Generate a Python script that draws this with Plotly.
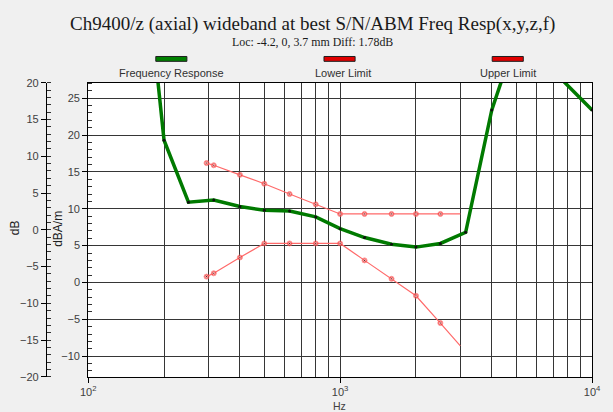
import plotly.graph_objects as go

# ---------------- data ----------------
resp_hz = [160, 200, 250, 315, 400, 500, 630, 800, 1000, 1250, 1600, 2000, 2500, 3150, 4000, 5000, 6300, 10000]
resp_db = [51, 19.3, 10.9, 11.2, 10.3, 9.8, 9.7, 8.9, 7.3, 6.1, 5.2, 4.8, 5.3, 6.8, 23.4, 33.3, 30.3, 23.4]

limit_hz = [295, 315, 400, 500, 630, 800, 1000, 1250, 1600, 2000, 2500, 3000]
upper_db = [16.2, 15.9, 14.6, 13.4, 12.0, 10.6, 9.3, 9.3, 9.3, 9.3, 9.3, 9.3]
lower_db = [0.8, 1.25, 3.4, 5.3, 5.3, 5.3, 5.3, 3.0, 0.5, -1.8, -5.5, -8.6]

x_major = [100, 1000, 10000]
x_major_text = ["10<sup>2</sup>", "10<sup>3</sup>", "10<sup>4</sup>"]
x_minor = [200, 300, 400, 500, 600, 700, 800, 900, 2000, 3000, 4000, 5000, 6000, 7000, 8000, 9000]
inner_ticks = [-10, -5, 0, 5, 10, 15, 20, 25]
outer_ticks = [-20, -15, -10, -5, 0, 5, 10, 15, 20]

title = "Ch9400/z (axial) wideband at best S/N/ABM Freq Resp(x,y,z,f)"
subtitle = "Loc: -4.2, 0, 3.7 mm Diff: 1.78dB"
legend_names = ["Frequency Response", "Lower Limit", "Upper Limit"]
legend_colors = ["#008000", "#e00000", "#e00000"]

W, H = 613, 412
GREEN = "#007a00"
RED_LINE = "#ff6a6a"
GRID = "#363636"
BG = "#f0f0f0"
TICKFONT = dict(family="Liberation Sans, Arial", size=11, color="#404040")

def px(x):
    return x / W

def py(y):
    return 1 - y / H

fig = go.Figure()

end_sizes = [5] * (len(limit_hz) - 1) + [0]
end_dots = [2] * (len(limit_hz) - 1) + [0]
for vals in (lower_db, upper_db):
    fig.add_trace(go.Scatter(
        x=limit_hz, y=vals, mode="lines+markers",
        line=dict(color=RED_LINE, width=1.2),
        marker=dict(color="#ee1010", size=end_sizes),
        showlegend=False, hoverinfo="skip"))
    fig.add_trace(go.Scatter(
        x=limit_hz, y=vals, mode="markers",
        marker=dict(color="#200000", size=end_dots),
        showlegend=False, hoverinfo="skip"))

fig.add_trace(go.Scatter(
    x=resp_hz, y=resp_db, mode="lines+markers",
    line=dict(color=GREEN, width=3.5),
    marker=dict(color="#101010", size=3),
    showlegend=False, hoverinfo="skip"))

fig.add_trace(go.Scatter(x=[100], y=[0], yaxis="y2", mode="markers",
                         marker=dict(opacity=0), showlegend=False, hoverinfo="skip"))

fig.update_layout(
    width=W, height=H, autosize=False,
    margin=dict(l=0, r=0, t=0, b=0),
    paper_bgcolor=BG, plot_bgcolor="white",
    xaxis=dict(
        type="log", range=[2, 4], domain=[px(82.5), px(600.7)],
        tickmode="array", tickvals=x_major, ticktext=x_major_text,
        ticks="outside", ticklen=5, tickcolor="black",
        showgrid=True, gridcolor=GRID, gridwidth=1.2,
        showline=True, linecolor="black", linewidth=1, mirror=True,
        tickfont=dict(family="Liberation Sans, Arial", size=11, color="#404040"),
        minor=dict(tickmode="array", tickvals=x_minor, showgrid=True,
                   gridcolor=GRID, gridwidth=1.2, ticks=""),
        zeroline=False,
    ),
    yaxis=dict(
        range=[-12.8, 27.1], domain=[py(382), py(79)],
        tickmode="array", tickvals=inner_ticks,
        ticks="outside", ticklen=5, tickcolor="black",
        showgrid=True, gridcolor=GRID, gridwidth=1.2,
        showline=True, linecolor="black", linewidth=1, mirror=True,
        tickfont=TICKFONT, zeroline=False,
        minor=dict(dtick=1, tick0=0, ticks="inside", ticklen=4,
                   tickcolor="#303030", showgrid=False),
    ),
    yaxis2=dict(
        range=[-20, 20], overlaying="y", anchor="free", position=px(39), side="left",
        tickmode="array", tickvals=outer_ticks,
        ticks="outside", ticklen=5, tickcolor="black",
        showgrid=False, zeroline=False,
        showline=True, linecolor="black", linewidth=1,
        tickfont=TICKFONT,
        minor=dict(dtick=1, tick0=0, ticks="inside", ticklen=4,
                   tickcolor="#303030", showgrid=False),
    ),
)

annotations = [
    dict(text=title, x=px(313), y=py(18.5), xref="paper", yref="paper",
         showarrow=False, xanchor="center", yanchor="middle",
         font=dict(family="Liberation Serif, Times New Roman", size=19, color="#1a1a1a")),
    dict(text=subtitle, x=px(313), y=py(37), xref="paper", yref="paper",
         showarrow=False, xanchor="center", yanchor="middle",
         font=dict(family="Liberation Serif, Times New Roman", size=11.9, color="#1a1a1a")),
    dict(text="dB", x=px(8), y=py(228), xref="paper", yref="paper", textangle=-90,
         showarrow=False, xanchor="center", yanchor="middle",
         font=dict(family="Liberation Sans, Arial", size=12, color="#202020")),
    dict(text="dBA/m", x=px(52), y=py(230), xref="paper", yref="paper", textangle=-90,
         showarrow=False, xanchor="center", yanchor="middle",
         font=dict(family="Liberation Sans, Arial", size=12, color="#202020")),
    dict(text="Hz", x=px(341), y=py(404), xref="paper", yref="paper",
         showarrow=False, xanchor="center", yanchor="top",
         font=dict(family="Liberation Sans, Arial", size=10.5, color="#404040")),
]

bar_centers = [168, 341, 514]
label_centers = [168, 345, 514]
shapes = []
for name, col, bc, lc in zip(legend_names, legend_colors, bar_centers, label_centers):
    shapes.append(dict(type="rect", xref="paper", yref="paper",
                       x0=px(bc - 16), x1=px(bc + 16), y0=py(57), y1=py(52),
                       fillcolor=col, line=dict(color="#202020", width=1)))
    annotations.append(dict(text=name, x=px(lc), y=py(69.5), xref="paper", yref="paper",
                            showarrow=False, xanchor="center", yanchor="middle",
                            font=dict(family="Liberation Sans, Arial", size=11, color="#303030")))

fig.update_layout(annotations=annotations, shapes=shapes)

post = ("document.documentElement.style.background='%s';"
        "document.body.style.background='%s';"
        "document.body.style.margin='0';"
        "document.body.style.overflow='hidden';" % (BG, BG))

fig.write_html("out.html", config={"displayModeBar": False}, post_script=post)
